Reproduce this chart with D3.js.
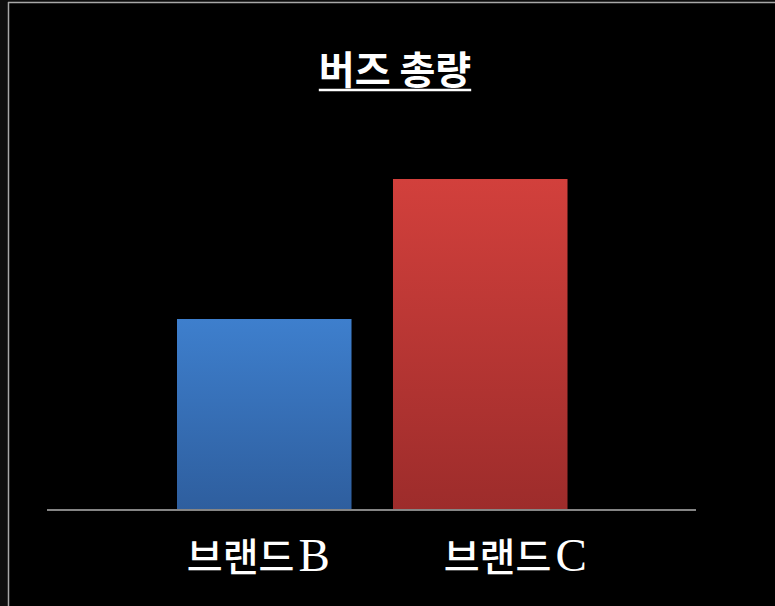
<!DOCTYPE html>
<html><head><meta charset="utf-8">
<script src="https://cdn.jsdelivr.net/npm/d3@7"></script>
<style>html,body{margin:0;padding:0;background:#0e0e0e;overflow:hidden}</style>
</head><body>
<script>
const title = "버즈 총량";
const categories = ["브랜드B", "브랜드C"];
const values = [57.7, 100];
const yDomain = [0, 100];

const W = 775, H = 606;
const svg = d3.select("body").append("svg").attr("width", W).attr("height", H);

const defs = svg.append("defs");
const grads = [["gB", "#3e7fcd", "#2e5e9e"], ["gC", "#d2403c", "#9d2c2b"]];
grads.forEach(([id, top, bot]) => {
  const g = defs.append("linearGradient").attr("id", id).attr("x1", 0).attr("y1", 0).attr("x2", 0).attr("y2", 1);
  g.append("stop").attr("offset", "0%").attr("stop-color", top);
  g.append("stop").attr("offset", "100%").attr("stop-color", bot);
});

// outer area + chart frame
svg.append("rect").attr("x", 0).attr("y", 0).attr("width", W).attr("height", H).attr("fill", "#0e0e0e");
svg.append("rect").attr("x", 8).attr("y", 2).attr("width", W).attr("height", H).attr("fill", "#000");
svg.append("line").attr("x1", 8).attr("x2", W).attr("y1", 2.5).attr("y2", 2.5).attr("stroke", "#a8a8a8").attr("stroke-width", 1.5);
svg.append("line").attr("x1", 8.5).attr("x2", 8.5).attr("y1", 2).attr("y2", H).attr("stroke", "#a8a8a8").attr("stroke-width", 1.5);

const plotLeft = 47, plotRight = 696, baseY = 510, topY = 179;
const x = d3.scaleBand().domain(categories).range([69, 675.5]).paddingInner(0.192).paddingOuter(0.5);
const y = d3.scaleLinear().domain(yDomain).range([baseY, topY]);

svg.selectAll("rect.bar").data(categories).join("rect")
  .attr("class", "bar")
  .attr("x", d => x(d))
  .attr("width", x.bandwidth())
  .attr("y", (d, i) => y(values[i]))
  .attr("height", (d, i) => baseY - y(values[i]))
  .attr("fill", (d, i) => `url(#${grads[i][0]})`);

// baseline axis
const xAxis = svg.append("g").attr("transform", `translate(0,${baseY})`);
xAxis.append("line").attr("x1", plotLeft).attr("x2", plotRight).attr("y1", 0).attr("y2", 0)
  .attr("stroke", "#858585").attr("stroke-width", 2);

const labelDx = [-6, 35];
const labels = svg.selectAll("text.lbl").data(categories).join("text")
  .attr("class", "lbl")
  .attr("x", (d, i) => x(d) + x.bandwidth() / 2 + labelDx[i])
  .attr("y", 571)
  .attr("text-anchor", "middle")
  .attr("fill", "#fff");
labels.append("tspan").attr("font-family", "'Noto Sans CJK KR'").attr("font-size", 39)
  .attr("font-weight", 500).text(d => d.slice(0, 3));
labels.append("tspan").attr("font-family", "'Liberation Serif'").attr("font-size", 47)
  .attr("dx", 4).text(d => d.slice(3));

const t = svg.append("text").attr("x", 395).attr("y", 84).attr("text-anchor", "middle")
  .attr("fill", "#fff").attr("font-family", "'Noto Sans CJK KR'").attr("font-weight", "bold")
  .attr("font-size", 39).text(title);
const bb = t.node().getBBox();
svg.append("line").attr("x1", bb.x).attr("x2", bb.x + bb.width).attr("y1", 90).attr("y2", 90)
  .attr("stroke", "#fff").attr("stroke-width", 2.5);
</script>
</body></html>
